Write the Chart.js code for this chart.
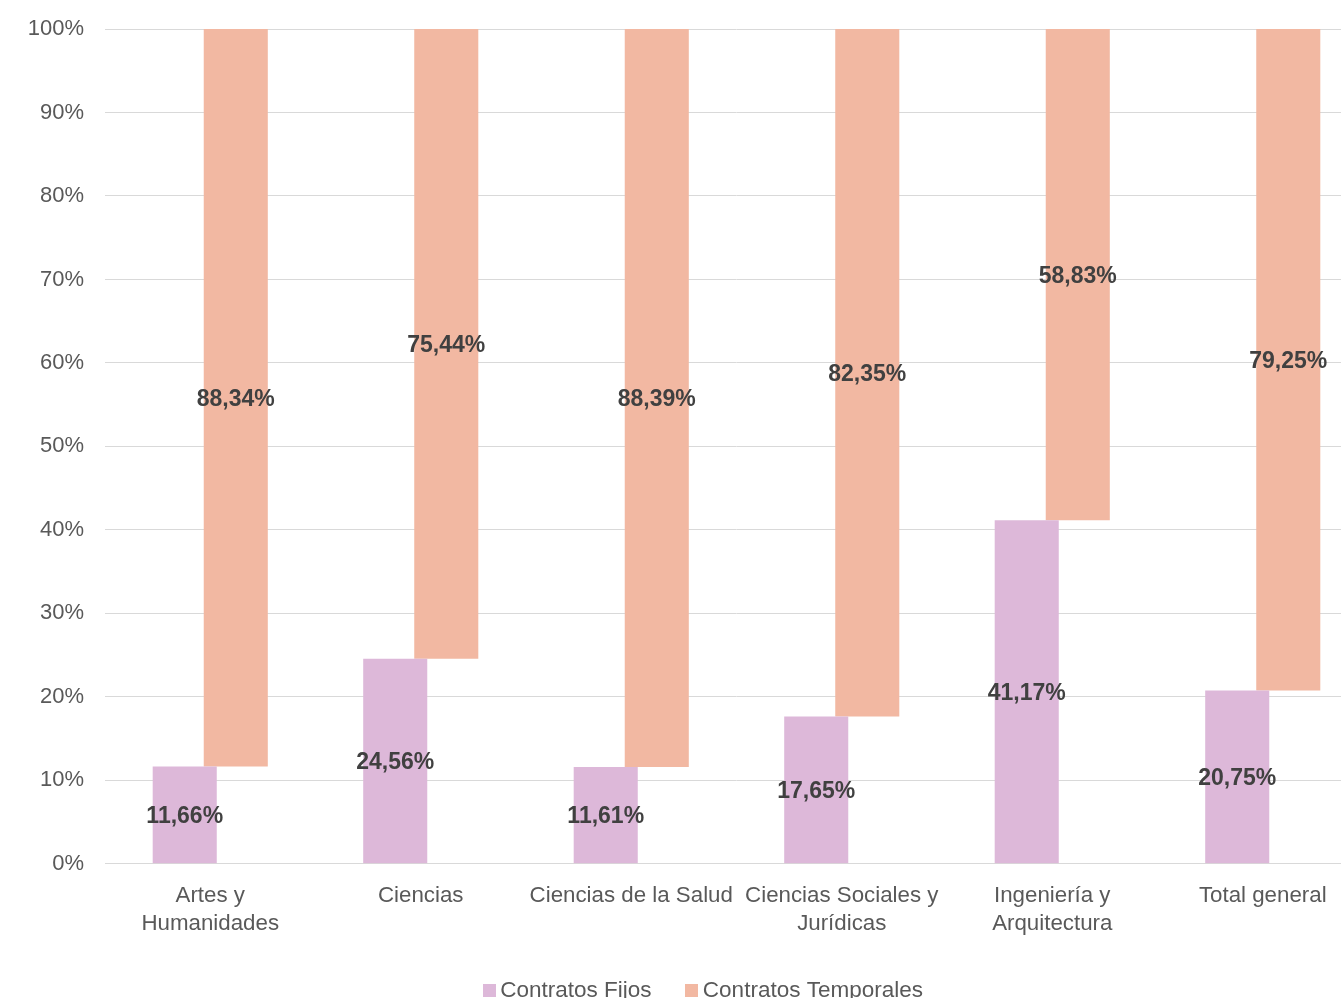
<!DOCTYPE html>
<html>
<head>
<meta charset="utf-8">
<script src="https://cdn.jsdelivr.net/npm/chart.js@4"></script>
<style>
  html, body { margin: 0; padding: 0; background: #ffffff; }
  #frame { width: 1341px; height: 998px; overflow: hidden; position: relative; }
  #box { width: 1368px; height: 1012px; position: absolute; left: 0; top: 0; }
</style>
</head>
<body>
<div id="frame"><div id="box"><canvas id="c"></canvas></div></div>
<script>
const categories = [
  ['Artes y', 'Humanidades'],
  'Ciencias',
  'Ciencias de la Salud',
  ['Ciencias Sociales y', 'Jurídicas'],
  ['Ingeniería y', 'Arquitectura'],
  'Total general'
];
const contratosFijos = [11.66, 24.56, 11.61, 17.65, 41.17, 20.75];
const contratosTemporales = [88.34, 75.44, 88.39, 82.35, 58.83, 79.25];
const seriesNames = ['Contratos Fijos', 'Contratos Temporales'];
const seriesColors = ['#DDB8D9', '#F2B8A2'];
const yTicks = [0, 10, 20, 30, 40, 50, 60, 70, 80, 90, 100];

const FONT = "'Liberation Sans', Arial, sans-serif";
const fmt = v => v.toFixed(2).replace('.', ',') + '%';

// small square swatches used as legend point styles
const swatches = seriesColors.map(col => {
  const c = document.createElement('canvas');
  c.width = 13; c.height = 13;
  const g = c.getContext('2d');
  g.fillStyle = col;
  g.fillRect(0, 0, 13, 13);
  return c;
});

const labelPlugin = {
  id: 'barLabels',
  afterLayout(chart) {
    if (chart.legend) { chart.legend.left += 16; }
  },
  afterDatasetsDraw(chart) {
    const ctx = chart.ctx;
    ctx.save();
    ctx.font = 'bold 23px ' + FONT;
    ctx.fillStyle = '#404040';
    ctx.textAlign = 'center';
    ctx.textBaseline = 'middle';
    const sources = [contratosFijos, contratosTemporales];
    chart.data.datasets.forEach((ds, di) => {
      const meta = chart.getDatasetMeta(di);
      meta.data.forEach((bar, i) => {
        const yMid = (bar.y + bar.base) / 2 + 2;
        ctx.fillText(fmt(sources[di][i]), bar.x, yMid);
      });
    });
    ctx.restore();
  }
};

new Chart(document.getElementById('c'), {
  type: 'bar',
  data: {
    labels: categories,
    datasets: [
      {
        label: seriesNames[0],
        data: contratosFijos.map(v => [0, v]),
        backgroundColor: seriesColors[0],
        borderWidth: 0,
        categoryPercentage: 0.485,
        barPercentage: 1.255
      },
      {
        label: seriesNames[1],
        data: contratosFijos.map((v, i) => [v, v + contratosTemporales[i]]),
        backgroundColor: seriesColors[1],
        borderWidth: 0,
        categoryPercentage: 0.485,
        barPercentage: 1.255
      }
    ]
  },
  options: {
    responsive: true,
    maintainAspectRatio: false,
    animation: false,
    layout: { padding: { left: 28, top: 29, right: 0, bottom: 0 } },
    plugins: {
      tooltip: { enabled: false },
      legend: {
        position: 'bottom',
        labels: {
          color: '#595959',
          font: { family: FONT, size: 22.5 },
          usePointStyle: true,
          pointStyleWidth: 0.01,
          boxHeight: 13,
          padding: 40,
          generateLabels(chart) {
            const items = Chart.defaults.plugins.legend.labels.generateLabels(chart);
            items.forEach((it, i) => { it.pointStyle = swatches[i]; });
            return items;
          }
        }
      }
    },
    scales: {
      x: {
        grid: { display: false, drawTicks: false },
        border: { display: true, color: '#d9d9d9', width: 1 },
        afterFit(scale) { scale.height -= 17; },
        ticks: {
          color: '#595959',
          font: { family: FONT, size: 22.3, lineHeight: 1.27 },
          maxRotation: 0,
          autoSkip: false,
          padding: 18
        }
      },
      y: {
        min: 0,
        max: 100,
        afterBuildTicks(scale) { scale.ticks = yTicks.map(v => ({ value: v })); },
        afterFit(scale) { scale.width = 77; },
        grid: { color: '#d9d9d9', lineWidth: 1, drawTicks: true, tickLength: 21, tickColor: 'rgba(0,0,0,0)' },
        border: { display: false },
        ticks: {
          color: '#595959',
          font: { family: FONT, size: 22 },
          padding: 0,
          callback: v => v + '%'
        }
      }
    }
  },
  plugins: [labelPlugin]
});
</script>
</body>
</html>
